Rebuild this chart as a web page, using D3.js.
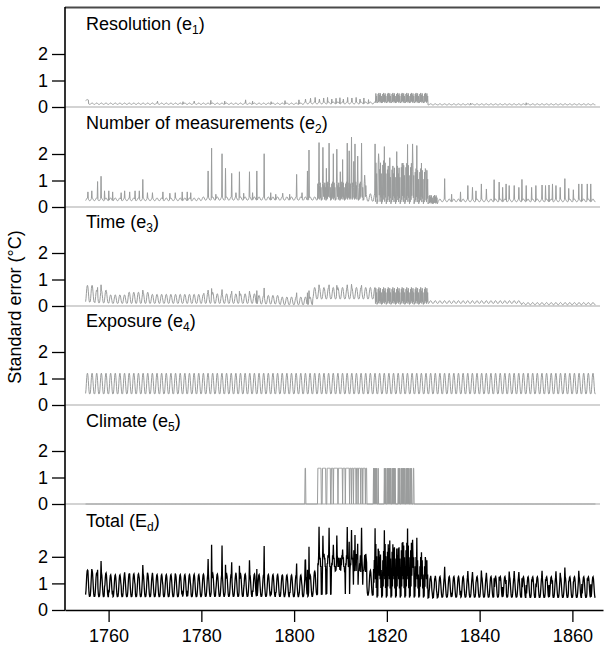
<!DOCTYPE html>
<html><head><meta charset="utf-8">
<script src="https://cdn.jsdelivr.net/npm/d3@7"></script>
<style>
body{margin:0;background:#fff}
svg{display:block}
text{font-family:"Liberation Sans",Arial,Helvetica,sans-serif}
</style>
</head><body>
<svg id="chart" width="605" height="648"></svg>
<script>
// ================= DATA =================
const firstYear = 1755, lastYear = 1864;
const panelNames = ["Resolution", "Number of measurements", "Time", "Exposure", "Climate", "Total"];
const panelSymbols = ["e", "e", "e", "e", "e", "E"];
const panelSubscripts = ["1", "2", "3", "4", "5", "d"];
const xTickValues = [1760, 1780, 1800, 1820, 1840, 1860];
const yTickValues = [0, 1, 2];
const yAxisTitle = "Standard error (°C)";

// relative position inside the yearly cycle, month by month
const seasonShape = [0.02, 0.2, 0.5, 0.8, 0.97, 1.0, 0.9, 0.65, 0.35, 0.1, 0.0, 0.0];
// month-to-month alternation in the dense (filled-looking) stretches
const denseShape = [0.05, 0.9, 0.1, 1.0, 0.2, 0.8, 0.05, 0.95, 0.15, 0.7, 0.0, 0.1];

// segments: [fromYear, toYear, low, high, mode]  mode "s" = seasonal, "d" = dense
const resolutionSegments = [
  [1755, 1755.6, 0.24, 0.28, "s"],
  [1755.6, 1802, 0.10, 0.15, "s"],
  [1802, 1817.5, 0.12, 0.19, "s"],
  [1817.5, 1828.8, 0.15, 0.53, "d"],
  [1828.8, 1865, 0.08, 0.12, "s"]
];
const resolutionSpikes = [[1770.5,0.22],[1776,0.2],[1778.4,0.22],[1782,0.25],[1785,0.22],[1789.5,0.27],
  [1791,0.22],[1795,0.2],[1798,0.24],[1801,0.27],[1802.4,0.3],[1803.5,0.33],[1804.5,0.36],[1805.4,0.3],
  [1806.3,0.34],[1807.2,0.36],[1808.1,0.3],[1809.0,0.33],[1809.8,0.35],[1810.6,0.3],[1811.5,0.36],
  [1812.4,0.34],[1813.3,0.36],[1814.2,0.3],[1815.0,0.34],[1816.0,0.28],[1838,0.15],[1850,0.16]];

const measurementSegments = [
  [1755, 1780, 0.24, 0.34, "s"],
  [1780, 1805, 0.26, 0.38, "s"],
  [1805, 1815.5, 0.25, 0.95, "d"],
  [1815.5, 1817.5, 0.22, 0.5, "s"],
  [1817.5, 1820, 0.12, 1.75, "d"],
  [1820, 1823, 0.12, 1.55, "d"],
  [1823, 1826, 0.12, 1.65, "d"],
  [1826, 1828.8, 0.12, 1.45, "d"],
  [1828.8, 1831, 0.12, 0.45, "d"],
  [1831, 1865, 0.2, 0.3, "s"]
];
const measurementSpikes = [
  [1755.5,0.57],[1756.3,0.61],[1757.6,0.96],[1758.3,1.16],[1759.1,0.61],[1760.0,0.61],[1760.8,0.57],
  [1762.7,0.54],[1763.4,0.61],[1764.5,0.57],[1765.7,0.61],[1766.6,0.61],[1767.3,1.04],[1768.3,0.54],
  [1769.4,0.54],[1771.7,0.57],[1773.2,0.52],[1774.3,0.54],[1775.8,0.57],[1776.9,0.57],[1777.7,0.54],
  [1781.4,1.36],[1782.2,2.22],[1783.1,0.48],[1784.4,2.01],[1785.2,1.46],[1786.5,1.27],[1787.4,0.54],
  [1788.2,1.33],[1789.1,0.52],[1790.3,1.33],[1791.0,0.54],[1791.9,1.36],[1793.5,2.01],[1794.9,0.54],
  [1796.0,0.48],[1797.5,0.52],[1799.0,0.48],[1800.5,1.23],[1801.7,0.54],[1802.8,1.36],[1803.2,2.15],
  [1805.3,2.43],[1806.2,2.25],[1806.9,1.46],[1807.5,2.41],[1808.4,2.01],[1809.2,2.18],[1809.9,1.33],
  [1810.4,1.79],[1811.4,2.41],[1811.8,2.12],[1812.3,2.64],[1812.8,1.72],[1813.1,2.38],[1813.7,1.92],
  [1814.5,2.41],[1815.2,1.20],
  [1817.4,2.38],[1818.2,2.01],[1819.4,2.28],[1820.6,1.86],[1822.1,2.09],[1823.4,1.66],[1824.4,2.36],
  [1825.5,2.38],[1826.4,2.32],[1827.4,1.66],[1828.3,1.40],
  [1832.4,1.07],[1833.9,0.48],[1835.8,0.57],[1837.4,0.81],[1838.4,0.74],[1839.2,0.61],[1840.3,0.87],
  [1841.4,0.68],[1843.1,1.03],[1844.2,0.94],[1844.9,0.74],[1845.7,0.87],[1846.3,0.81],[1847.4,0.81],
  [1848.4,0.74],[1849.1,1.04],[1850.0,0.81],[1851.2,0.74],[1852.1,0.81],[1853.4,0.83],[1854.2,0.81],
  [1854.9,0.83],[1855.7,0.87],[1856.4,0.81],[1857.3,0.74],[1858.3,1.07],[1859.2,0.70],[1860.2,0.65],
  [1861.3,0.87],[1862.0,0.87],[1863.2,0.87],[1863.9,0.87]
];

const timeSegments = [
  [1755, 1757, 0.15, 0.78, "s"],
  [1757, 1760, 0.12, 0.60, "s"],
  [1760, 1764, 0.10, 0.42, "s"],
  [1764, 1769, 0.10, 0.52, "s"],
  [1769, 1780.5, 0.10, 0.44, "s"],
  [1780.5, 1783, 0.10, 0.52, "s"],
  [1783, 1792, 0.10, 0.46, "s"],
  [1792, 1797, 0.08, 0.40, "s"],
  [1797, 1804, 0.05, 0.34, "s"],
  [1804, 1817.5, 0.27, 0.70, "s"],
  [1817.5, 1828.8, 0.06, 0.70, "d"],
  [1828.8, 1849, 0.10, 0.20, "s"],
  [1849, 1865, 0.05, 0.13, "s"]
];
const timeSpikes = [[1757.6,0.7],[1758.3,0.8],[1767.3,0.6],[1781.4,0.6],[1782.2,0.66],[1784.4,0.62],
  [1786.5,0.56],[1788.2,0.56],[1790.3,0.56],[1791.9,0.58],[1793.5,0.68],[1800.5,0.5],[1802.8,0.5],
  [1803.2,0.58],[1805.3,0.8],[1807.5,0.8],[1809.2,0.78],[1811.4,0.8],[1812.3,0.82],[1814.5,0.78]];

const exposureSegments = [[1755, 1865, 0.42, 1.2, "s"]];
const exposureSpikes = [];

// climate: [fromYear, toYear, monthly on/off pattern], level when "on"
const climateLevel = 1.35;
const climateIntervals = [
  [1802.3, 1802.5, "111111111111"],
  [1804.8, 1808, "011111111100"],
  [1808, 1811, "111110111111"],
  [1811, 1812, "011111111110"],
  [1812, 1815.6, "111101111011"],
  [1816.8, 1818.2, "010101010100"],
  [1819.3, 1821.8, "010101010100"],
  [1822.4, 1825.4, "010101010100"],
  [1825.6, 1825.8, "111111111111"]
];

// ================= BUILD MONTHLY SERIES =================
const months = [];
for (let yr = firstYear; yr <= lastYear; yr++) for (let m = 0; m < 12; m++) months.push({yr, m, t: yr + m / 12});

function buildSeries(segments, spikes) {
  const vals = months.map(d => {
    const seg = segments.find(s => d.t >= s[0] && d.t < s[1]);
    if (!seg) return 0;
    const shape = seg[4] === "d" ? denseShape : seasonShape;
    return seg[2] + (seg[3] - seg[2]) * shape[d.m];
  });
  spikes.forEach(([ty, v]) => {
    const i = Math.round((ty - firstYear) * 12);
    if (i >= 0 && i < vals.length) vals[i] = Math.max(vals[i], v);
  });
  return vals;
}
const e1 = buildSeries(resolutionSegments, resolutionSpikes);
const e2 = buildSeries(measurementSegments, measurementSpikes);
const e3 = buildSeries(timeSegments, timeSpikes);
const e4 = buildSeries(exposureSegments, exposureSpikes);
const e5 = months.map(d => {
  const iv = climateIntervals.find(c => d.t >= c[0] && d.t < c[1]);
  return iv && iv[2][d.m] === "1" ? climateLevel : 0;
});
const total = months.map((d, i) => Math.sqrt(e1[i]**2 + e2[i]**2 + e3[i]**2 + e4[i]**2 + e5[i]**2));
const seriesList = [e1, e2, e3, e4, e5, total];

// ================= DRAW =================
const svg = d3.select("#chart");
const left = 65, right = 603;
const x = d3.scaleLinear().domain([1750.6, 1866.6]).range([left, right]);
const FONT = 18;

const panelZero = [107, 207, 306, 405, 504, 610];
const panelUnit = [26.5, 26.5, 26.5, 26.5, 26.5, 26.6];
const titleBase = [30, 129, 228, 327, 427, 527];

// top border
svg.append("line").attr("x1", left).attr("x2", 600).attr("y1", 7.5).attr("y2", 7.5)
  .attr("stroke", "#4a4a4a").attr("stroke-width", 2);

seriesList.forEach((vals, p) => {
  const y = d3.scaleLinear().domain([0, 1]).range([panelZero[p], panelZero[p] - panelUnit[p]]);
  const g = svg.append("g");
  if (p < 5) {
    g.append("line").attr("x1", left).attr("x2", 600)
      .attr("y1", y(0)).attr("y2", y(0))
      .attr("stroke", "#c4c4c4").attr("stroke-width", 1.5);
  }
  const line = d3.line().x((d, i) => x(months[i].t + 0.5 / 12)).y(d => y(d));
  g.append("path").datum(vals).attr("d", line).attr("fill", "none")
    .attr("stroke", p === 5 ? "#000" : "#9a9c9c").attr("stroke-width", p === 5 ? 1.3 : 1);
  const ax = g.append("g").attr("transform", `translate(${left},0)`)
    .call(d3.axisLeft(y).tickValues(yTickValues).tickFormat(d3.format("d")).tickSize(13).tickSizeOuter(0).tickPadding(4));
  ax.select(".domain").remove();
  ax.selectAll("line").attr("stroke", "#000").attr("stroke-width", 1.3);
  ax.selectAll("text").attr("font-size", FONT).attr("fill", "#000")
    .attr("font-family", '"Liberation Sans",Arial,sans-serif');
  const t = g.append("text").attr("x", 86).attr("y", titleBase[p]).attr("font-size", FONT).attr("fill", "#000");
  t.append("tspan").text(panelNames[p] + " (" + panelSymbols[p]);
  t.append("tspan").text(panelSubscripts[p]).attr("font-size", 12).attr("dy", 4);
  t.append("tspan").text(")").attr("dy", -4);
});

// left axis line
svg.append("line").attr("x1", left).attr("x2", left).attr("y1", 7).attr("y2", 610.5)
  .attr("stroke", "#000").attr("stroke-width", 1.6);

// x axis
const xa = svg.append("g").attr("transform", "translate(0,610)")
  .call(d3.axisBottom(x).tickValues(xTickValues).tickFormat(d3.format("d")).tickSize(12).tickSizeOuter(0).tickPadding(7));
xa.select(".domain").attr("stroke", "#000").attr("stroke-width", 1.6);
xa.selectAll("line").attr("stroke", "#000").attr("stroke-width", 1.3);
xa.selectAll("text").attr("font-size", FONT).attr("fill", "#000")
  .attr("font-family", '"Liberation Sans",Arial,sans-serif');

// y axis title
svg.append("text").attr("transform", "translate(21,307) rotate(-90)")
  .attr("text-anchor", "middle").attr("font-size", FONT).attr("fill", "#000").text(yAxisTitle);
</script>
</body></html>
